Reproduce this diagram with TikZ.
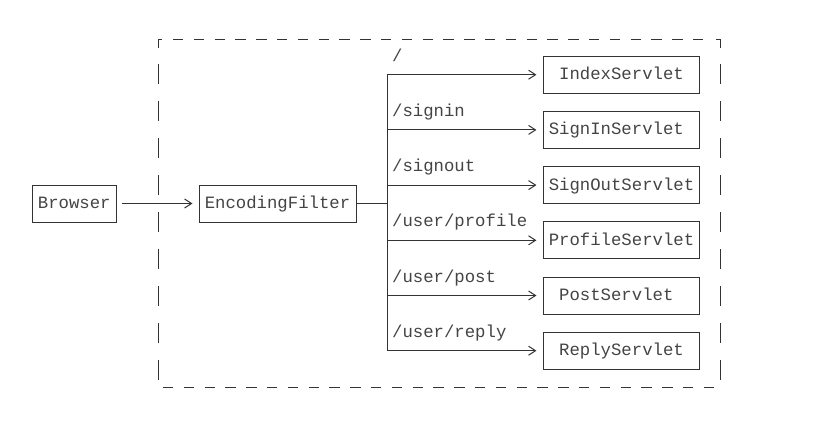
\documentclass[tikz,border=0pt]{standalone}
\usepackage{fontspec}
\setmonofont{Liberation Mono}
\usetikzlibrary{arrows.meta}
\definecolor{linec}{HTML}{333333}
\definecolor{textc}{HTML}{444444}
\tikzset{
  txt/.style={font=\fontsize{17.3}{20}\ttfamily, text=textc},
  boxnode/.style={txt, draw=linec, line width=1pt, inner sep=0pt, minimum height=37pt, text height=10pt, text depth=0pt},
  servlet/.style={boxnode, minimum width=156.5pt},
  conn/.style={draw=linec, line width=1pt},
  arr/.style={conn, -{Straight Barb[length=7pt,width=9pt,line width=1pt]}},
  route/.style={txt, anchor=base west, inner sep=0pt},
  hdash/.style={draw=linec, line width=1pt, dash pattern=on 10.4pt off 10.4pt},
  vdash/.style={draw=linec, line width=1pt, dash pattern=on 20pt off 17pt}
}
\begin{document}
\begin{tikzpicture}[x=1pt,y=-1pt]
\useasboundingbox (0,0) rectangle (822,424);
% dashed container
\draw[conn] (158,48) -- (158,39) -- (162,39);
\draw[conn] (716,39) -- (720,39) -- (720,48);
\draw[hdash] (173,39) -- (704,39);
\draw[hdash] (163,387) -- (715,387);
\draw[vdash] (158,64) -- (158,381);
\draw[vdash] (720,64) -- (720,381);
% nodes
\node[boxnode, minimum width=84.5pt] (browser) at (74.3,203.5) {Browser};
\node[boxnode, minimum width=157pt] (enc) at (277.5,203.5) {EncodingFilter};
\node[servlet] (s1) at (621.5,74.7) {IndexServlet};
\node[servlet] (s2) at (621.5,129.9) {SignInServlet\phantom{x}};
\node[servlet] (s3) at (621.5,185.1) {SignOutServlet};
\node[servlet] (s4) at (621.5,240.3) {ProfileServlet};
\node[servlet] (s5) at (621.5,295.5) {PostServlet\phantom{x}};
\node[servlet] (s6) at (621.5,350.7) {ReplyServlet};
% trunk coordinates
\coordinate (j) at (387,203.5);
\foreach \i/\y in {1/74.7,2/129.9,3/185.1,4/240.3,5/295.5,6/350.7}{
  \coordinate (t\i) at (387,\y);
}
% connectors
\draw[arr, shorten <=4.5pt, shorten >=6pt] (browser.east) -- (enc.west);
\draw[conn] (enc.east) -- (j);
\draw[conn] (t1) -- (t6);
\foreach \i in {1,...,6}{
  \draw[arr, shorten >=6.3pt] (t\i) -- (s\i.west);
}
% route labels
\node[route] (l1) at (392,61.2) {/};
\node[route] (l2) at (392,116.4) {/signin};
\node[route] (l3) at (392,171.6) {/signout};
\node[route] (l4) at (392,226.8) {/user/profile};
\node[route] (l5) at (392,282.0) {/user/post};
\node[route] (l6) at (392,337.2) {/user/reply};
\end{tikzpicture}
\end{document}
